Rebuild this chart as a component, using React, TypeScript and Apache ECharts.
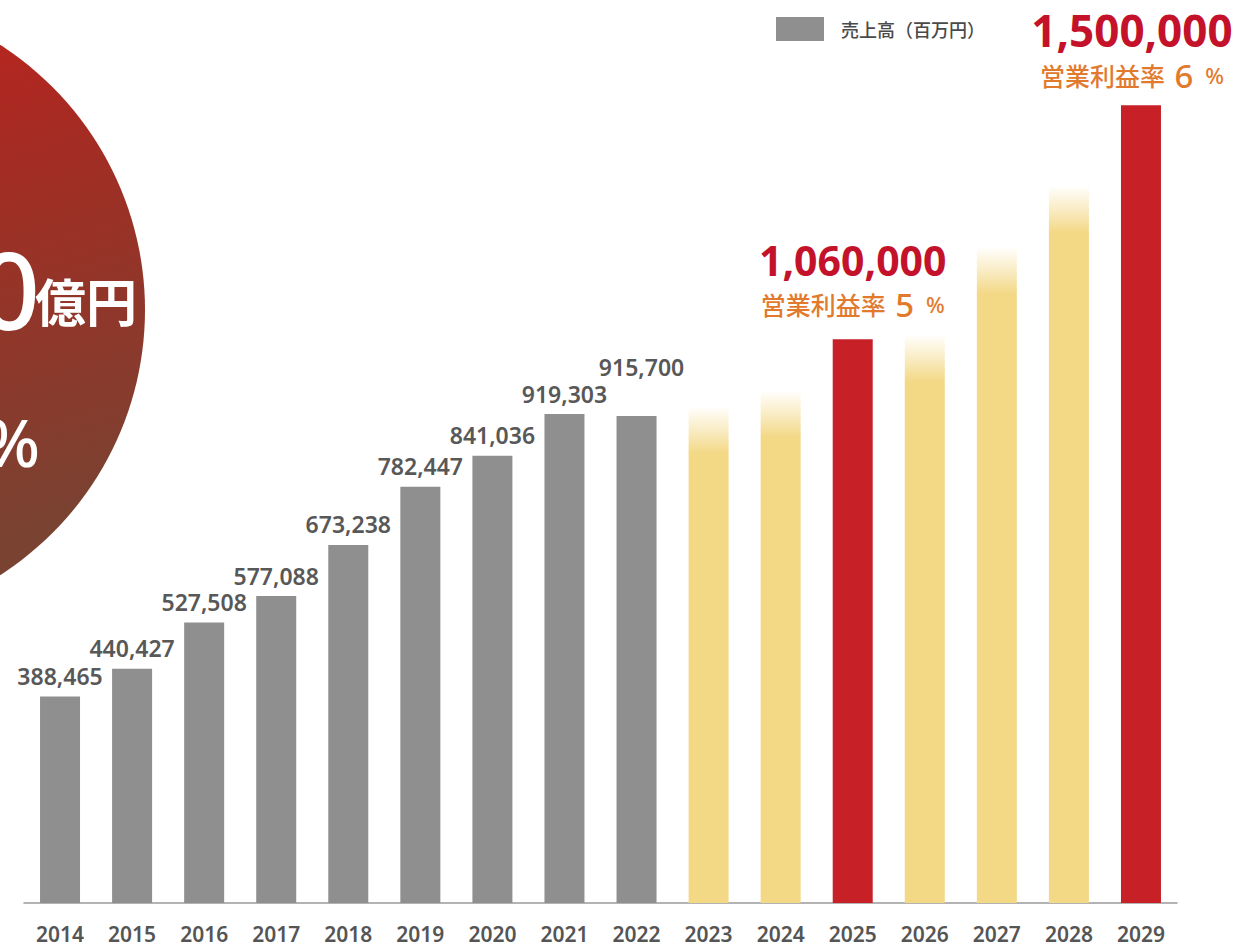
import React, { useEffect, useRef } from "react";
import * as echarts from "echarts";

const years = ["2014", "2015", "2016", "2017", "2018", "2019", "2020", "2021", "2022", "2023", "2024", "2025", "2026", "2027", "2028", "2029"];
const sales = [388465, 440427, 527508, 577088, 673238, 782447, 841036, 919303, 915700, 930000, 960000, 1060000, 1065000, 1230000, 1345000, 1500000];
// actual = 実績, plan = 計画（未記載）, target = 目標
const kinds = ["actual", "actual", "actual", "actual", "actual", "actual", "actual", "actual", "actual", "plan", "plan", "target", "plan", "plan", "plan", "target"];
const marginRates: (number | null)[] = [null, null, null, null, null, null, null, null, null, null, null, 5, null, null, null, 6];
const legendName = "売上高（百万円）";

const Y_MAX = 1600000;
const PLOT_H = 851;

const GRAY = "#8f8f8f";
const RED = "#c72127";
const YELLOW = "243,216,134";
const FONT = "'Noto Sans', 'Noto Sans CJK JP', sans-serif";
const CJK = "'Noto Sans CJK JP', 'Noto Sans', sans-serif";

function fmt(v: number) {
  return v.toLocaleString("en-US");
}

export default function App() {
  const ref = useRef<HTMLDivElement>(null);

  useEffect(() => {
    if (!ref.current) return;
    const chart = echarts.init(ref.current, null, { renderer: "svg" });

    const data = sales.map((v, i) => {
      const kind = kinds[i];
      if (kind === "actual") {
        return {
          value: v,
          itemStyle: { color: GRAY },
          label: {
            show: true,
            position: "top",
            distance: 9,
            formatter: fmt(v),
            fontFamily: FONT,
            fontSize: 23,
            fontWeight: 600,
            color: "#585858",
            offset: i === 8 ? [5, -28] : [0, 0],
          },
        };
      }
      if (kind === "plan") {
        const h = (v / Y_MAX) * PLOT_H;
        const f = Math.min(0.3, 45 / h);
        return {
          value: v,
          itemStyle: {
            color: new echarts.graphic.LinearGradient(0, 0, 0, 1, [
              { offset: 0, color: `rgba(${YELLOW},0.05)` },
              { offset: f * 0.5, color: `rgba(${YELLOW},0.5)` },
              { offset: f, color: `rgba(${YELLOW},1)` },
              { offset: 1, color: `rgba(${YELLOW},1)` },
            ]),
          },
          label: { show: false },
        };
      }
      const big = i === 15;
      return {
        value: v,
        itemStyle: { color: RED },
        label: {
          show: true,
          position: "top",
          distance: big ? 8 : 13,
          offset: big ? [-9, 0] : [0, 0],
          formatter: `{a|${fmt(v)}}\n{b|営業利益率 }{c|${marginRates[i]}}{d| %}`,
          rich: {
            a: { fontFamily: FONT, fontSize: big ? 44 : 41, fontWeight: "bold", color: "#c4122b", lineHeight: big ? 46 : 44 },
            b: { fontFamily: CJK, fontSize: 25, fontWeight: 500, color: "#e27a2e", lineHeight: 44 },
            c: { fontFamily: FONT, fontSize: 33, fontWeight: 500, color: "#e27a2e", lineHeight: 44, padding: [0, 6, 0, 4] },
            d: { fontFamily: FONT, fontSize: 22, fontWeight: 500, color: "#e27a2e", lineHeight: 44 },
          },
        },
      };
    });

    chart.setOption({
      animation: false,
      backgroundColor: "#ffffff",
      grid: { left: 24, right: 62, top: 52, bottom: 43 },
      legend: {
        left: 776,
        top: 17,
        padding: 0,
        itemWidth: 48,
        itemHeight: 24,
        icon: "rect",
        data: [legendName],
        selectedMode: false,
        textStyle: { fontFamily: CJK, fontSize: 18, fontWeight: 500, color: "#4a4a4a", padding: [0, 0, 0, 12] },
      },
      xAxis: {
        type: "category",
        data: years,
        axisLine: { lineStyle: { color: "#9a9a9a", width: 1.5 } },
        axisTick: { show: false },
        axisLabel: { fontFamily: FONT, fontSize: 21, fontWeight: 600, color: "#555555", margin: 20 },
      },
      yAxis: {
        type: "value",
        min: 0,
        max: Y_MAX,
        show: false,
        splitLine: { show: false },
      },
      series: [
        {
          name: legendName,
          type: "bar",
          barWidth: 40,
          itemStyle: { color: GRAY },
          data,
        },
      ],
      graphic: [
        {
          type: "circle",
          z: -1,
          shape: { cx: -170, cy: 310, r: 315 },
          style: {
            fill: new echarts.graphic.LinearGradient(0, 0, 0.3, 1, [
              { offset: 0, color: "#d41f1d" },
              { offset: 0.4, color: "#a82a22" },
              { offset: 1, color: "#7a4231" },
            ]),
          },
        },
        {
          type: "text",
          x: 40,
          y: 288,
          style: {
            text: "0",
            fill: "#ffffff",
            fontFamily: FONT,
            fontSize: 108,
            fontWeight: 500,
            align: "right",
            verticalAlign: "middle",
          },
        },
        {
          type: "text",
          x: 35,
          y: 300,
          style: {
            text: "億円",
            fill: "#ffffff",
            fontFamily: CJK,
            fontSize: 51,
            fontWeight: "bold",
            align: "left",
            verticalAlign: "middle",
          },
        },
        {
          type: "text",
          x: 40,
          y: 441,
          style: {
            text: "%",
            fill: "#ffffff",
            fontFamily: FONT,
            fontSize: 66,
            fontWeight: 500,
            align: "right",
            verticalAlign: "middle",
          },
        },
      ],
    });

    return () => chart.dispose();
  }, []);

  return <div ref={ref} style={{ position: "fixed", left: 0, top: 0, width: 1239, height: 946 }} />;
}
